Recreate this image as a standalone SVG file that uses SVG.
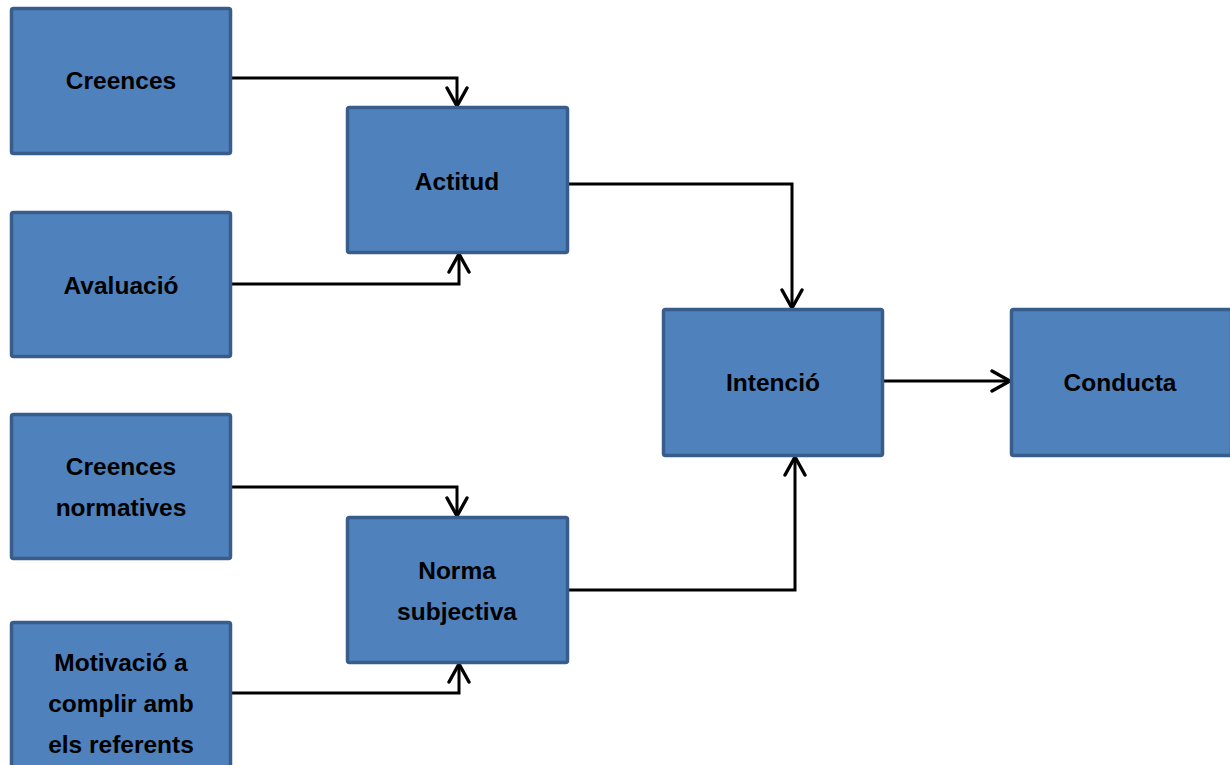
<svg xmlns="http://www.w3.org/2000/svg" width="1230" height="765" viewBox="0 0 1230 765">
  <style>
    .box { fill: #4f81bd; stroke: #385d8a; stroke-width: 3.5; }
    .lbl { font-family: "Liberation Sans", Arial, sans-serif; font-weight: bold; font-size: 24.5px; fill: #000; text-anchor: middle; }
    .wire { fill: none; stroke: #000; stroke-width: 3; }
  </style>
  <defs>
    <!-- open V arrowhead shared by every connector -->
    <marker id="openL" viewBox="0 0 22 26" refX="20" refY="13" markerWidth="22" markerHeight="26" markerUnits="userSpaceOnUse" orient="auto">
      <path d="M2,3 L20,13 L2,23" fill="none" stroke="#000" stroke-width="3.4" stroke-linecap="round" stroke-linejoin="miter"/>
    </marker>
  </defs>

  <!-- connectors -->
  <g id="connectors">
    <path class="wire" d="M231,78 H457 V106" marker-end="url(#openL)"/>
    <path class="wire" d="M231,284 H459 V254" marker-end="url(#openL)"/>
    <path class="wire" d="M568,184 H792 V308" marker-end="url(#openL)"/>
    <path class="wire" d="M231,487 H457 V516" marker-end="url(#openL)"/>
    <path class="wire" d="M231,693 H459 V664" marker-end="url(#openL)"/>
    <path class="wire" d="M568,590 H795 V457" marker-end="url(#openL)"/>
    <path class="wire" d="M883,381 H1010" marker-end="url(#openL)"/>
  </g>

  <g id="creences">
    <rect class="box" x="11.5" y="8.5" width="219" height="145" rx="2"/>
    <text class="lbl" x="121" y="89">Creences</text>
  </g>
  <g id="avaluacio">
    <rect class="box" x="11.5" y="212.5" width="219" height="144" rx="2"/>
    <text class="lbl" x="121" y="294">Avaluació</text>
  </g>
  <g id="creences-normatives">
    <rect class="box" x="11.5" y="414.5" width="219" height="144" rx="2"/>
    <text class="lbl" x="121" y="475">Creences</text>
    <text class="lbl" x="121" y="516">normatives</text>
  </g>
  <g id="motivacio">
    <rect class="box" x="11.5" y="622.5" width="219" height="150" rx="2"/>
    <text class="lbl" x="121" y="671">Motivació a</text>
    <text class="lbl" x="121" y="712">complir amb</text>
    <text class="lbl" x="121" y="753">els referents</text>
  </g>
  <g id="actitud">
    <rect class="box" x="347.5" y="107.5" width="220" height="145" rx="2"/>
    <text class="lbl" x="457" y="190">Actitud</text>
  </g>
  <g id="norma-subjectiva">
    <rect class="box" x="347.5" y="517.5" width="220" height="145" rx="2"/>
    <text class="lbl" x="457" y="579">Norma</text>
    <text class="lbl" x="457" y="620">subjectiva</text>
  </g>
  <g id="intencio">
    <rect class="box" x="663.5" y="309.5" width="219" height="146" rx="2"/>
    <text class="lbl" x="773" y="391">Intenció</text>
  </g>
  <g id="conducta">
    <rect class="box" x="1011.5" y="309.5" width="220" height="146" rx="2"/>
    <text class="lbl" x="1120" y="391">Conducta</text>
  </g>
</svg>
